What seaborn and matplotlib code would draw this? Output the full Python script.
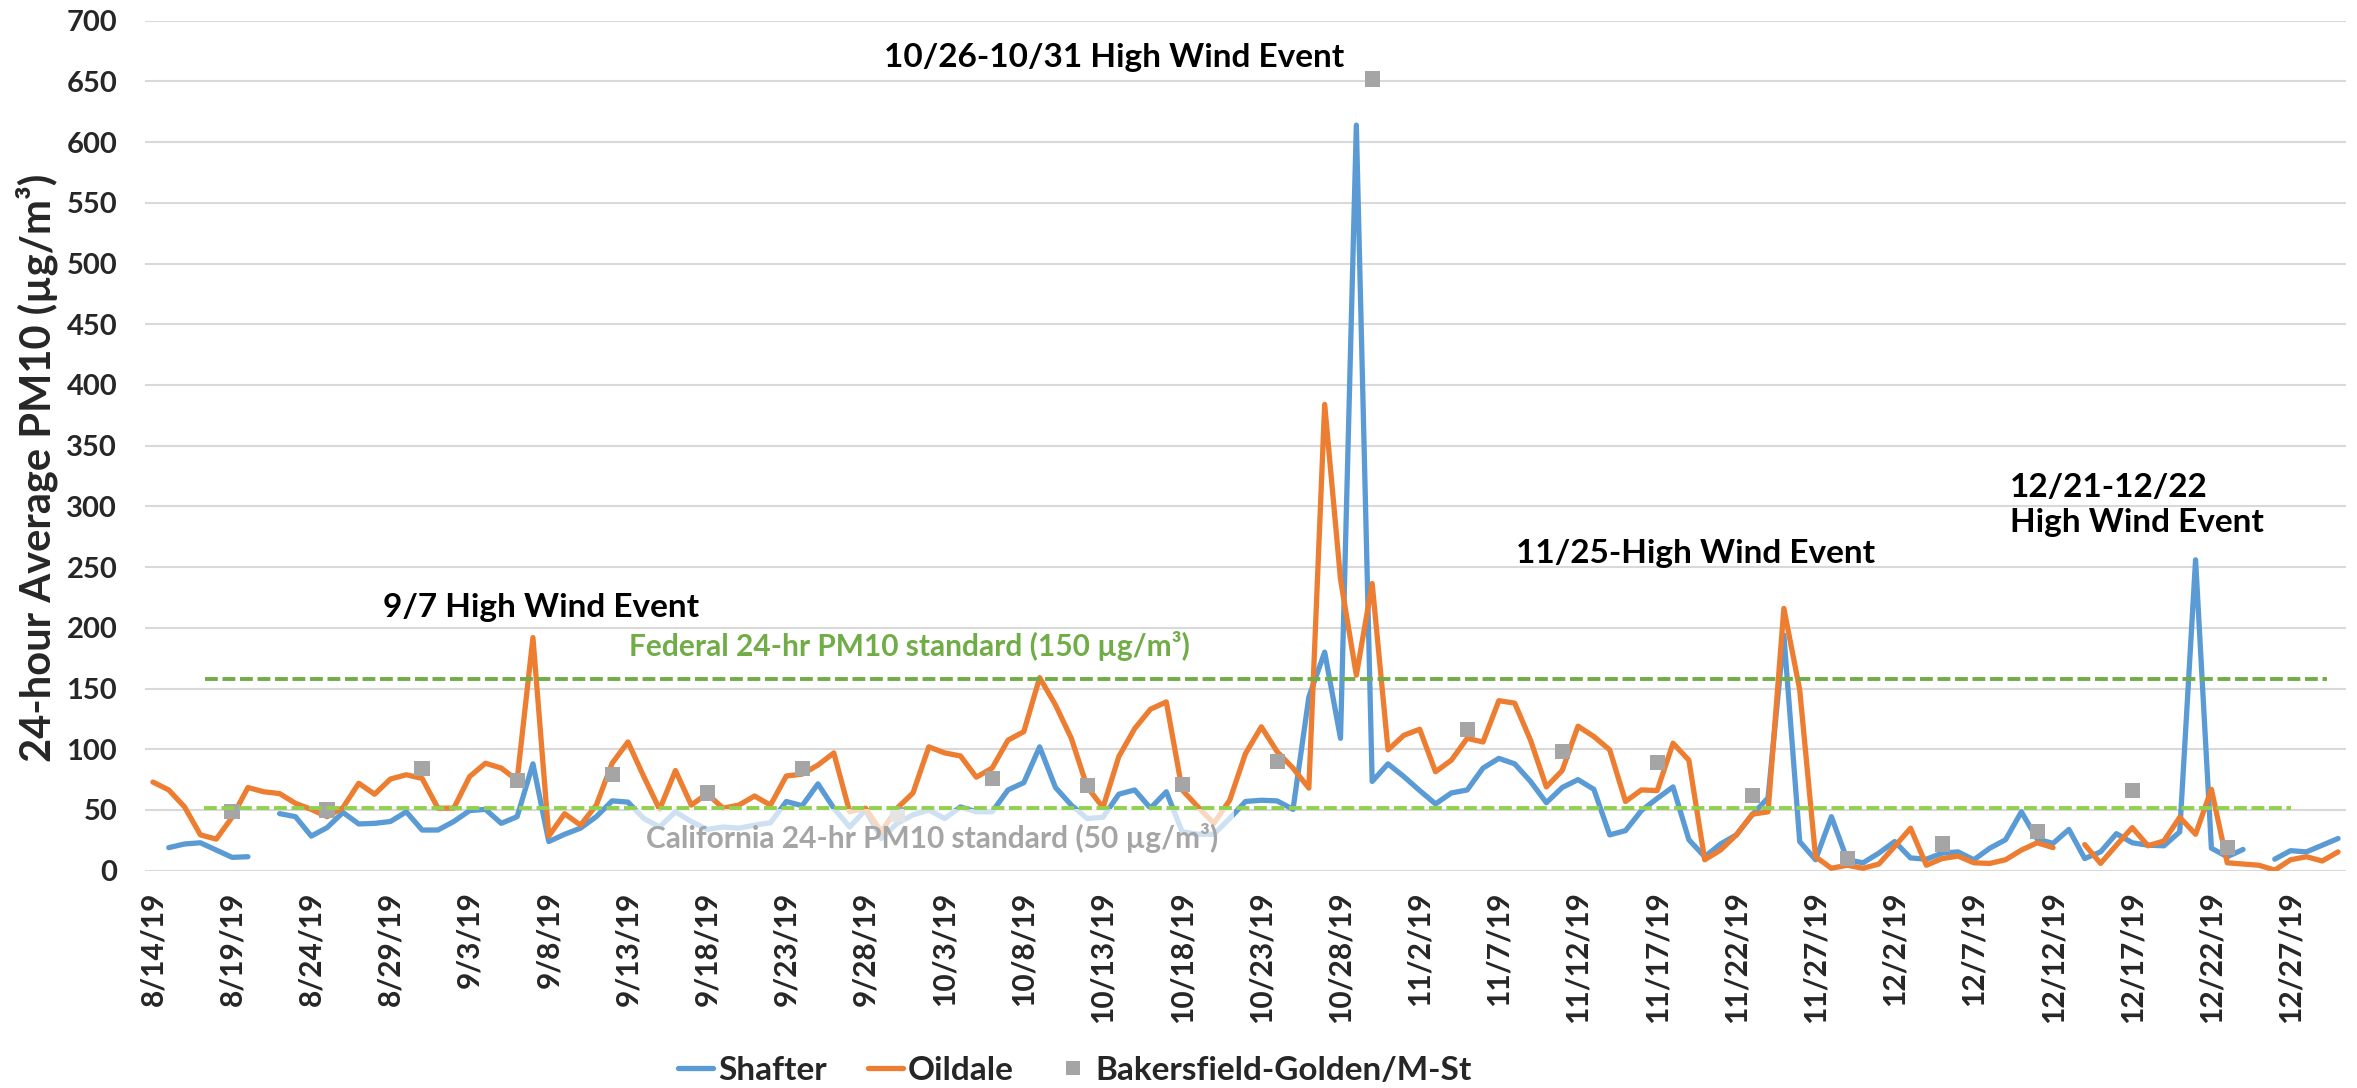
import datetime as dt
import numpy as np
import pandas as pd
import matplotlib
matplotlib.use("Agg")
import matplotlib.pyplot as plt
import seaborn as sns
from matplotlib.lines import Line2D
from matplotlib.patches import Rectangle

# ---------------- data ----------------
start_date = dt.date(2019, 8, 14)
n_days = 139
dates = [start_date + dt.timedelta(days=i) for i in range(n_days)]
date_labels = [f"{d.month}/{d.day}/19" for d in dates]

nan = np.nan
shafter = [
    nan, 19, 22, 23, 17, 11, 11.5, nan, 47, 44.5,
    28.5, 35.5, 48, 38.5, 39, 40.5, 48.5, 33.5, 33.5, 40.5,
    49.5, 50.5, 39, 44.5, 88, 24, 30, 35, 44.5, 57.5,
    56.5, 43, 36, 48.5, 40.5, 34, 36, 35, 37.5, 39.5,
    57, 53.5, 71.5, 51.5, 36, 50, 26.5, 39, 46, 50,
    43, 52.5, 48.5, 48.5, 66.5, 72.5, 102, 68.5, 54, 43,
    44, 63, 66.5, 51.5, 65, 32, 30, 30, 43, 57,
    58, 57.5, 50.5, 143, 180, 109, 614, 73.5, 88, 77.5,
    66, 55, 64, 66.5, 84.5, 92.5, 88, 73.5, 56, 68.5,
    75, 67, 29.5, 33, 49.5, 59.5, 69, 25.5, 11.5, 22,
    29.5, 46, 60, 194, 24, 9, 44.5, 9, 6.5, 14.5,
    24, 10.5, 9.5, 14.5, 15.5, 9, 18.5, 25.5, 48.5, 26,
    22.5, 34, 10, 15.5, 30.5, 23, 21, 20.5, 32, 256,
    18.5, 11.5, 17.5, nan, 9.5, 16.5, 15.5, 21, 26.5,
]
oildale = [
    73, 66.5, 52.5, 29.5, 26, 44, 68.5, 65, 63.5, 55.5,
    50.5, 44.5, 52, 72, 63, 75.5, 79, 76, 51.5, 51.5,
    77.5, 88.5, 84.5, 74.5, 192, 28.5, 47, 37.5, 54, 88.5,
    106, 77.5, 50.5, 82.5, 54, 63.5, 51.5, 54, 61.5, 54,
    78, 79.5, 87, 97, 48.5, 51.5, 32, 51.5, 64, 102,
    97, 94.5, 77, 84.5, 107.5, 114.5, 159, 136.5, 109, 69,
    52, 94, 117, 133, 139, 66.5, 52.5, 39, 58, 96.5,
    118.5, 98, 84.5, 68, 384, 240, 161, 236.5, 99.5, 111.5,
    116.5, 81.5, 91, 109, 106, 140, 138, 107.5, 69, 82.5,
    119, 110.5, 99.5, 57, 66.5, 66, 105, 91, 9, 17,
    29.5, 46.5, 48.5, 216, 149, 11.5, 2, 4.5, 2, 5.5,
    20, 35, 4.5, 10, 12, 6.5, 6, 9, 17, 23,
    19, nan, 21.5, 6, 21, 35.5, 20.5, 24.5, 44, 30,
    67, 6.5, 5.5, 4.5, 0.5, 9, 11.5, 8, 15.5,
]
bakersfield_days = list(range(5, 132, 6))
bakersfield = [49, 50, 84, 74, 79, 64, 84, 46, 76, 70, 71,
               90, 652, 116, 98, 89, 62, 10, 22, 32, 66, 19]

federal_std = 158
california_std = 52
federal_span = [3.3, 137.3]
california_span = [3.2, 135.0]

tick_days = list(range(0, 136, 5))
tick_labels = [date_labels[i] for i in tick_days]
y_ticks = list(range(0, 701, 50))

site_names = ["Shafter", "Oildale", "Bakersfield-Golden/M-St"]
colors = {"Shafter": "#5B9BD5", "Oildale": "#ED7D31",
          "Bakersfield-Golden/M-St": "#A5A5A5"}

# ---------------- long table with gap-aware segments ----------------
rows = []
for site, vals in (("Shafter", shafter), ("Oildale", oildale)):
    seg = 0
    for d, v in enumerate(vals):
        if np.isnan(v):
            seg += 1
            continue
        rows.append({"day": d, "value": v, "site": site, "seg": f"{site}-{seg}"})
lines_df = pd.DataFrame(rows)
bak_df = pd.DataFrame({"day": bakersfield_days, "value": bakersfield})

# ---------------- style ----------------
sns.set_style("white")
plt.rcParams["font.family"] = ["Lato", "DejaVu Sans"]
plt.rcParams["font.weight"] = "bold"

W, H = 2357, 1088
fig = plt.figure(figsize=(W / 100, H / 100), dpi=100)
ax_l, ax_r, ax_t, ax_b = 145, 2346, 20.7, 870.7
ax = fig.add_axes([ax_l / W, (H - ax_b) / H, (ax_r - ax_l) / W, (ax_b - ax_t) / H])

for site in ["Shafter", "Oildale"]:
    sub = lines_df[lines_df["site"] == site]
    sns.lineplot(data=sub, x="day", y="value", units="seg", estimator=None,
                 color=colors[site], lw=3.8, ax=ax, legend=False, sort=False,
                 zorder=2 if site == "Shafter" else 3)

sns.scatterplot(data=bak_df, x="day", y="value", marker="s", s=120,
                color=colors["Bakersfield-Golden/M-St"], edgecolor="none",
                ax=ax, legend=False, zorder=4)

# translucent label box of the California standard text
ax.add_patch(Rectangle((30.1, 4), 68.3 - 30.1, 51 - 4, facecolor="white",
                       alpha=0.7, lw=0, zorder=5))

ax.plot(federal_span, [federal_std] * 2, color="#70AD47", lw=2.8,
        dashes=(3.3, 1.2), zorder=6)
ax.plot(california_span, [california_std] * 2, color="#92D050", lw=2.8,
        dashes=(3.3, 1.2), zorder=6)

ax.set_xlim(-0.5, n_days - 0.5)
ax.set_ylim(0, 700)
ax.set_xticks(tick_days)
ax.set_xticklabels(tick_labels, rotation=90, fontsize=21.5, fontweight="bold")
ax.set_yticks(y_ticks)
ax.set_yticklabels([str(v) for v in y_ticks], fontsize=21, fontweight="bold")
ax.tick_params(axis="x", length=0, pad=15)
ax.tick_params(axis="y", length=0, pad=20)
ax.set_xlabel("")
ax.set_ylabel("")
ax.grid(False)
ax.yaxis.grid(True, color="#D9D9D9", lw=1.5, zorder=0)
ax.set_axisbelow(True)
for s in ax.spines.values():
    s.set_visible(False)

fig.text(37 / W, (H - 762) / H, "24-hour Average PM10 (µg/m³)", rotation=90,
         ha="center", va="bottom", fontsize=30, fontweight="bold")

txt_kw = dict(fontsize=24, fontweight="bold", color="black", zorder=7)
ax.text(24.5, 217, "9/7 High Wind Event", ha="center", va="center", **txt_kw)
ax.text(60.7, 670, "10/26-10/31 High Wind Event", ha="center", va="center", **txt_kw)
ax.text(97.4, 261.6, "11/25-High Wind Event", ha="center", va="center", **txt_kw)
ax.text(117.3, 301, "12/21-12/22\nHigh Wind Event", ha="left", va="center",
        linespacing=1.25, **txt_kw)

ax.text(47.8, 185, "Federal 24-hr PM10 standard (150 µg/m³)", ha="center",
        va="center", fontsize=21.5, fontweight="bold", color="#70AD47", zorder=7)
ax.text(49.2, 27, "California 24-hr PM10 standard (50 µg/m³)", ha="center",
        va="center", fontsize=21.5, fontweight="bold", color="#A5A5A5", zorder=7)

handles = [
    Line2D([], [], color=colors["Shafter"], lw=3.8),
    Line2D([], [], color=colors["Oildale"], lw=3.8),
    Line2D([], [], color=colors["Bakersfield-Golden/M-St"], lw=0, marker="s",
           markersize=10, markeredgewidth=0),
]
fig.legend(handles, site_names, loc="center", bbox_to_anchor=(1075 / W, 18 / H),
           ncol=3, frameon=False, handlelength=1.05,
           handletextpad=0.15, columnspacing=1.25, borderpad=0,
           prop={"weight": "bold", "size": 24})

fig.savefig("out.png", dpi=100)
